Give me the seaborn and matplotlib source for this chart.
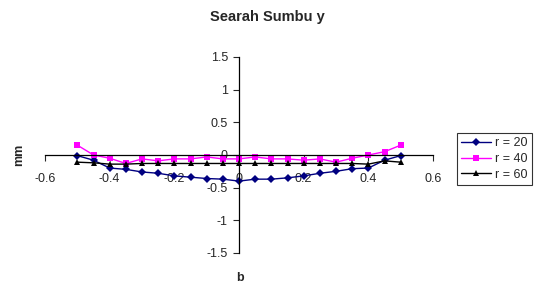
import pandas as pd
import seaborn as sns
import matplotlib.pyplot as plt

# posisi b dan lendutan (mm) untuk tiap r
b = [-0.5, -0.45, -0.4, -0.35, -0.3, -0.25, -0.2, -0.15, -0.1, -0.05, 0.0,
     0.05, 0.1, 0.15, 0.2, 0.25, 0.3, 0.35, 0.4, 0.45, 0.5]
r20 = [-0.01, -0.08, -0.20, -0.22, -0.26, -0.28, -0.32, -0.34, -0.36, -0.37, -0.40,
       -0.37, -0.37, -0.35, -0.32, -0.28, -0.25, -0.21, -0.20, -0.08, -0.01]
r40 = [0.15, 0.00, -0.05, -0.13, -0.06, -0.09, -0.06, -0.06, -0.03, -0.06, -0.06,
       -0.03, -0.06, -0.06, -0.08, -0.06, -0.11, -0.05, 0.00, 0.05, 0.15]
r60 = [-0.11, -0.12, -0.14, -0.14, -0.13, -0.13, -0.13, -0.13, -0.13, -0.13, -0.13,
       -0.13, -0.13, -0.13, -0.13, -0.13, -0.13, -0.13, -0.14, -0.09, -0.11]
labels = ['r = 20', 'r = 40', 'r = 60']

df = pd.concat([
    pd.DataFrame({'b': b, 'mm': vals, 'seri': lab})
    for vals, lab in zip([r20, r40, r60], labels)
])

sns.set_style('white')
plt.rcParams['font.family'] = ['Liberation Sans', 'DejaVu Sans']

fig = plt.figure(figsize=(5.34, 2.87), dpi=100)
ax = fig.add_axes([0.0843, 0.1185, 0.7266, 0.683])

palette = {'r = 20': '#000080', 'r = 40': '#FF00FF', 'r = 60': '#000000'}
markers = {'r = 20': 'D', 'r = 40': 's', 'r = 60': '^'}
sns.lineplot(data=df, x='b', y='mm', hue='seri', style='seri', palette=palette,
             markers=markers, dashes=False, linewidth=1, markersize=4,
             markeredgewidth=0, ax=ax)

ax.set_xlim(-0.6, 0.6)
ax.set_ylim(-1.5, 1.5)
ax.set_xticks([-0.6, -0.4, -0.2, 0, 0.2, 0.4, 0.6])
ax.set_xticklabels(['-0.6', '-0.4', '-0.2', '0', '0.2', '0.4', '0.6'])
ax.set_yticks([-1.5, -1, -0.5, 0, 0.5, 1, 1.5])
ax.set_yticklabels(['-1.5', '-1', '-0.5', '0', '0.5', '1', '1.5'])
ax.tick_params(labelsize=9, length=4, width=0.8, direction='out',
               bottom=True, left=True)
ax.tick_params(axis='x', pad=9)
ax.tick_params(axis='y', pad=4)

# sumbu berpotongan di titik nol
for s in ['left', 'bottom']:
    ax.spines[s].set_position(('data', 0))
    ax.spines[s].set_color('#000000')
    ax.spines[s].set_linewidth(0.9)
for s in ['top', 'right']:
    ax.spines[s].set_visible(False)
ax.set_xlabel('')
ax.set_ylabel('')

fig.text(0.5, 0.94, 'Searah Sumbu y', ha='center', va='center',
         fontsize=10.5, fontweight='bold')
fig.text(0.449, 0.03, 'b', ha='center', va='center', fontsize=9, fontweight='bold')
fig.text(0.036, 0.46, 'mm', ha='center', va='center', fontsize=9,
         fontweight='bold', rotation=90)

leg = ax.legend(loc='upper left', bbox_to_anchor=(0.856, 0.537),
                bbox_transform=fig.transFigure, fontsize=9, frameon=True,
                fancybox=False, borderpad=0.35, labelspacing=0.3,
                handlelength=2.4, handletextpad=0.3, borderaxespad=0)
leg.get_frame().set_edgecolor('#000000')
leg.get_frame().set_linewidth(0.8)

fig.savefig('out.png', dpi=100)
